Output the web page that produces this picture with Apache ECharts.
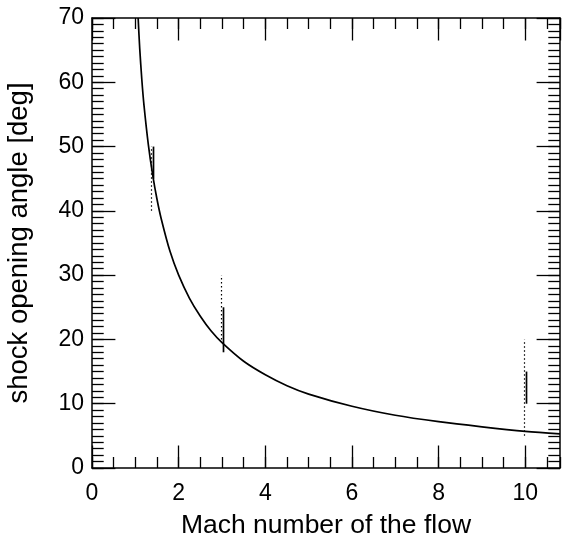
<!DOCTYPE html>
<html><head><meta charset="utf-8">
<script src="https://cdn.jsdelivr.net/npm/echarts@6/dist/echarts.min.js"></script>
<style>html,body{margin:0;padding:0;background:#fff}#c{width:571px;height:541px}</style>
</head><body><div id="c"></div>
<script>
// Curve: Mach number vs shock opening angle
const curveMach  = [1.065, 1.1, 1.15, 1.2, 1.3, 1.4, 1.5, 1.6, 1.8, 2.0, 2.25, 2.5, 2.75, 3.0, 3.5, 4.0, 4.5, 5.0, 6.0, 7.0, 8.0, 9.0, 10.0, 10.8];
const curveAngle = [70.0, 65.4, 60.4, 56.4, 50.3, 45.6, 41.8, 38.7, 33.7, 30.0, 26.4, 23.6, 21.3, 19.5, 16.6, 14.5, 12.8, 11.5, 9.6, 8.2, 7.2, 6.4, 5.7, 5.3];
// Measurements (error ranges)
const errMach     = [1.4, 3.0, 10.0];
const solidLow    = [45, 18, 10];
const solidHigh   = [50, 25, 15];
const dottedLow   = [40, 20, 5];
const dottedHigh  = [50, 30, 20];
// Axes
const xMin = 0, xMax = 10.8, xMajor = 2, xMinor = 0.5;
const yMin = 0, yMax = 70, yMajor = 10, yMinor = 1;
const xTitle = 'Mach number of the flow';
const yTitle = 'shock opening angle [deg]';

const FONT = 'Liberation Sans, Arial, Helvetica, sans-serif';
const black = '#000';
function xAx(pos, interval, len, labels, line, extra) {
  return Object.assign({
    type: 'value', position: pos, min: xMin, max: xMax, interval: interval,
    splitLine: {show: false},
    axisLine: {show: line, onZero: false, lineStyle: {color: black, width: 1.5}},
    axisTick: {show: true, inside: true, length: len, lineStyle: {color: black, width: 1.3}},
    axisLabel: {show: labels, showMaxLabel: false, color: black, fontSize: 23, fontFamily: FONT, margin: 14}
  }, extra || {});
}
function yAx(pos, interval, len, labels, line, extra) {
  return Object.assign({
    type: 'value', position: pos, min: yMin, max: yMax, interval: interval,
    splitLine: {show: false},
    axisLine: {show: line, onZero: false, lineStyle: {color: black, width: 1.5}},
    axisTick: {show: true, inside: true, length: len, lineStyle: {color: black, width: 1.3}},
    axisLabel: {show: labels, color: black, fontSize: 23, fontFamily: FONT, margin: 8}
  }, extra || {});
}
const chart = echarts.init(document.getElementById('c'), null, {renderer: 'canvas'});
function errItem(lows, highs, dx, dashed, width) {
  return {
    type: 'custom', xAxisIndex: 0, yAxisIndex: 0, clip: true,
    data: errMach.map((m, i) => [m, lows[i], highs[i]]),
    renderItem: function (params, api) {
      const a = api.coord([api.value(0), api.value(1)]);
      const b = api.coord([api.value(0), api.value(2)]);
      const x = Math.round(a[0] + dx) + 0.5;
      return {type: 'line', shape: {x1: x, y1: a[1], x2: x, y2: b[1]},
        style: {stroke: black, lineWidth: width, lineDash: dashed ? [1.5, 2.5] : null}};
    },
    z: 5
  };
}
chart.setOption({
  animation: false,
  grid: {left: 92, right: 11, top: 18, bottom: 73, containLabel: false, outerBoundsMode: 'none'},
  xAxis: [
    xAx('bottom', xMajor, 22.5, true, true, {name: xTitle, nameLocation: 'middle', nameGap: 44,
      nameTextStyle: {color: black, fontSize: 26.5, fontFamily: FONT}}),
    xAx('bottom', xMinor, 11, false, false),
    xAx('top', xMajor, 22.5, false, true),
    xAx('top', xMinor, 11, false, false)
  ],
  yAxis: [
    yAx('left', yMajor, 23.4, true, true, {name: yTitle, nameLocation: 'middle', nameGap: 59,
      nameTextStyle: {color: black, fontSize: 27.5, fontFamily: FONT}}),
    yAx('left', yMinor, 11.7, false, false),
    yAx('right', yMajor, 23.4, false, true),
    yAx('right', yMinor, 11.7, false, false)
  ],
  series: [
    {type: 'line', xAxisIndex: 0, yAxisIndex: 0, data: curveMach.map((m, i) => [m, curveAngle[i]]),
     smooth: 0.3, showSymbol: false, clip: true, lineStyle: {color: black, width: 1.7}, z: 4},
    errItem(dottedLow, dottedHigh, -1.5, true, 1.2),
    errItem(solidLow, solidHigh, 0.5, false, 1.7)
  ]
});
</script></body></html>
